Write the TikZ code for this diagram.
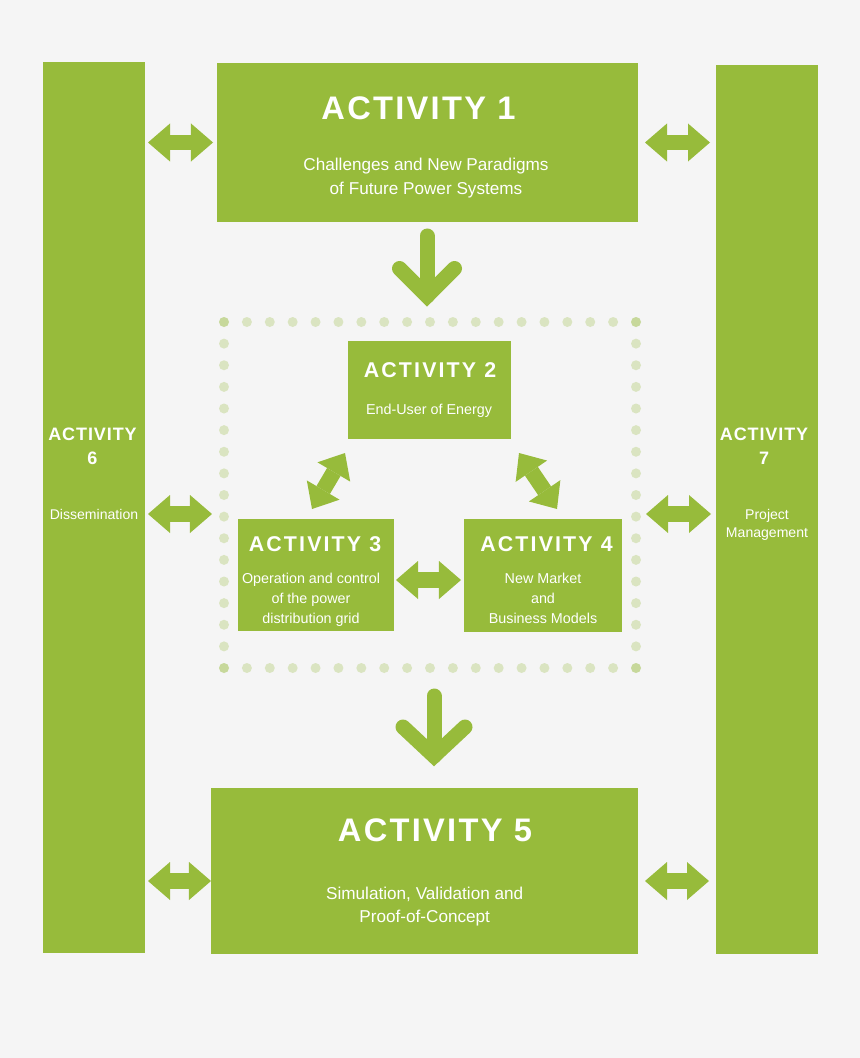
\documentclass[tikz,border=0pt]{standalone}
\usepackage{fontspec}
\setmainfont{Liberation Sans}
\newfontfamily\bigttlfont[LetterSpace=7]{Liberation Sans}
\newfontfamily\midttlfont[LetterSpace=10]{Liberation Sans}
\newfontfamily\sidettlfont[LetterSpace=5]{Liberation Sans}
\usetikzlibrary{arrows.meta,positioning,fit,calc}
\definecolor{actgreen}{HTML}{97BB3B}
\definecolor{actbg}{HTML}{F5F5F5}
\tikzset{
  actbox/.style={rectangle, fill=actgreen, inner sep=0pt, outer sep=0pt},
  grpbox/.style={rectangle, inner sep=0pt, outer sep=0pt},
  bigttl/.style={text=white, anchor=base, inner sep=0pt, font=\bigttlfont\bfseries\fontsize{23.2pt}{28pt}\selectfont},
  midttl/.style={text=white, anchor=base, inner sep=0pt, font=\midttlfont\bfseries\fontsize{15.2pt}{18pt}\selectfont},
  sidettl/.style={text=white, anchor=base, inner sep=0pt, align=center, font=\sidettlfont\bfseries\fontsize{12.8pt}{17pt}\selectfont},
  subtxt/.style={text=white, anchor=base, inner sep=0pt, align=center, font=\fontsize{12.2pt}{16.6pt}\selectfont},
  bodytxt/.style={text=white, anchor=base, inner sep=0pt, align=center, font=\fontsize{10.2pt}{14.2pt}\selectfont},
  sidetxt/.style={text=white, anchor=base, inner sep=0pt, align=center, font=\fontsize{10pt}{13pt}\selectfont},
  dblarr/.style={draw=actgreen, line width=0.39cm,
    {Triangle[width=0.95cm,length=0.55cm,line width=0pt]}-{Triangle[width=0.95cm,length=0.55cm,line width=0pt]}},
  downarr/.style={draw=actgreen, line width=0.375cm, line cap=round, line join=miter},
  dot/.style={fill=actgreen, opacity=0.28},
}
\begin{document}
\begin{tikzpicture}[x=0.025cm, y=-0.025cm]
  \fill[actbg] (0,0) rectangle (860,1058);
  % side bars and activity boxes
  \node[actbox, fit={(43,62) (145,953)}] (a6) {};
  \node[actbox, fit={(716,65) (818,954)}] (a7) {};
  \node[actbox, fit={(217,63) (638,222)}] (a1) {};
  \node[actbox, fit={(211,788) (638,954)}] (a5) {};
  \node[actbox, fit={(348,341) (511,439)}] (a2) {};
  \node[actbox, fit={(238,519) (394,631)}] (a3) {};
  \node[actbox, fit={(464,519) (622,632)}] (a4) {};
  \node[grpbox, fit={(224,322) (636,668)}] (grp) {};
  % dotted frame
  \foreach \i in {0,...,18} {
    \fill[dot] ({224+\i*22.889},322) circle (0.125cm);
    \fill[dot] ({224+\i*22.889},668) circle (0.125cm);
  }
  \foreach \j in {0,...,16} {
    \fill[dot] (224,{322+\j*21.625}) circle (0.125cm);
    \fill[dot] (636,{322+\j*21.625}) circle (0.125cm);
  }
  % texts (base = last line)
  \node[bigttl] (a1t) at (418.5,119.5) {ACTIVITY 1};
  \node[subtxt] (a1s) at (426,194) {Challenges and New Paradigms\\of Future Power Systems};
  \node[midttl] (a2t) at (430,377) {ACTIVITY 2};
  \node[bodytxt] (a2s) at (429,414) {End-User of Energy};
  \node[midttl] (a3t) at (315,551) {ACTIVITY 3};
  \node[bodytxt] (a3s) at (311,623.3) {Operation and control\\of the power\\distribution grid};
  \node[midttl] (a4t) at (546.5,551) {ACTIVITY 4};
  \node[bodytxt] (a4s) at (543,623.3) {New Market\\and\\Business Models};
  \node[bigttl] (a5t) at (435,841.7) {ACTIVITY 5};
  \node[subtxt] (a5s) at (424.7,922.7) {Simulation, Validation and\\Proof-of-Concept};
  \node[sidettl] (a6t) at (92.5,464) {ACTIVITY\\6};
  \node[sidetxt] (a6s) at (94,519) {Dissemination};
  \node[sidettl] (a7t) at (764,464) {ACTIVITY\\7};
  \node[sidetxt] (a7s) at (767,537.3) {Project\\Management};
  % rows for the side arrows
  \coordinate (midrow) at (430,514);
  \coordinate (botrow) at (430,881);
  \coordinate (pairrow) at (430,580);
  % double arrows
  \draw[dblarr, shorten <=0.075cm, shorten >=0.1cm] (a6.east |- a1.west) -- (a1.west);
  \draw[dblarr, shorten <=0.175cm, shorten >=0.15cm] (a1.east) -- (a7.west |- a1.east);
  \draw[dblarr, shorten <=0.075cm, shorten >=0.3cm] (a6.east |- midrow) -- (grp.west |- midrow);
  \draw[dblarr, shorten <=0.25cm, shorten >=0.125cm] (grp.east |- midrow) -- (a7.west |- midrow);
  \draw[dblarr, shorten <=0.075cm] (a6.east |- botrow) -- (a5.west |- botrow);
  \draw[dblarr, shorten <=0.175cm, shorten >=0.175cm] (a5.east |- botrow) -- (a7.west |- botrow);
  \draw[dblarr, shorten <=0.05cm, shorten >=0.075cm] (a3.east |- pairrow) -- (a4.west |- pairrow);
  \draw[dblarr] ($(a2.south west)+(-3,14)$) -- ($(a3.north)+(-4,-10)$);
  \draw[dblarr] ($(a2.south east)+(8,14)$) -- ($(a4.north)+(14,-10)$);
  % down arrows
  \draw[downarr] ($(a1.south)+(-0.5,14)$) -- ++(0,60) coordinate (v1);
  \draw[downarr] ($(v1)+(-27.5,-27.5)$) -- (v1) -- ++(27.5,-27.5);
  \draw[downarr] ($(grp.south)+(4,28)$) -- ++(0,60) coordinate (v2);
  \draw[downarr] ($(v2)+(-31,-29)$) -- (v2) -- ++(31,-29);
\end{tikzpicture}
\end{document}
